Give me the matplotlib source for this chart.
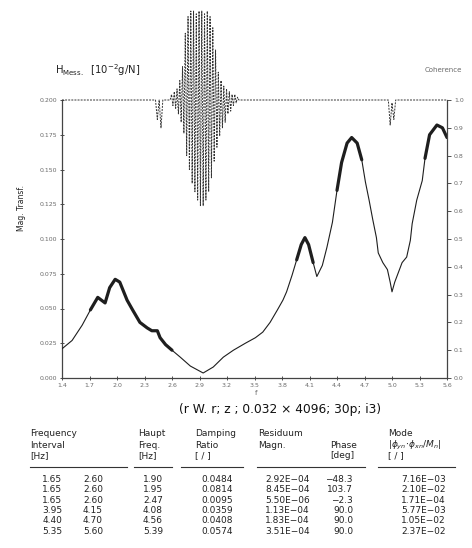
import numpy as np
import matplotlib.pyplot as plt

freq = [1.40, 1.51, 1.62, 1.71, 1.79, 1.87, 1.92, 1.98, 2.03, 2.11, 2.17,
        2.25, 2.33, 2.38, 2.44, 2.47, 2.53, 2.60, 2.69, 2.80, 2.94, 3.05,
        3.16, 3.27, 3.40, 3.51, 3.59, 3.67, 3.75, 3.81, 3.85, 3.91, 3.96,
        4.01, 4.05, 4.09, 4.14, 4.18, 4.24, 4.29, 4.35, 4.40, 4.45, 4.51,
        4.56, 4.62, 4.67, 4.71, 4.75, 4.79, 4.83, 4.85, 4.90, 4.95, 4.98,
        5.00, 5.03, 5.07, 5.11, 5.16, 5.20, 5.22, 5.27, 5.33, 5.36, 5.41,
        5.49, 5.55, 5.60]
mag = [0.021, 0.027, 0.038, 0.049, 0.058, 0.054, 0.065, 0.071, 0.069, 0.056,
       0.049, 0.040, 0.036, 0.034, 0.034, 0.029, 0.024, 0.020, 0.015, 0.0086,
       0.0036, 0.0079, 0.015, 0.020, 0.025, 0.029, 0.033, 0.040, 0.049, 0.056,
       0.062, 0.074, 0.085, 0.096, 0.101, 0.096, 0.083, 0.073, 0.081, 0.094,
       0.112, 0.135, 0.155, 0.169, 0.173, 0.169, 0.157, 0.141, 0.128, 0.114,
       0.101, 0.090, 0.083, 0.078, 0.069, 0.062, 0.069, 0.076, 0.083, 0.087,
       0.099, 0.111, 0.128, 0.142, 0.158, 0.175, 0.182, 0.180, 0.173]

coh_freq = [1.40, 2.42, 2.44, 2.46, 2.48, 2.50,
            2.580, 2.595, 2.610, 2.625, 2.640, 2.655, 2.670, 2.685, 2.700,
            2.715, 2.730, 2.745, 2.760, 2.775, 2.790, 2.805, 2.820, 2.835,
            2.850, 2.865, 2.880, 2.895, 2.910, 2.925, 2.940, 2.955, 2.970,
            2.985, 3.000, 3.015, 3.030, 3.045, 3.060, 3.075, 3.090, 3.105,
            3.120, 3.135, 3.150, 3.165, 3.180, 3.195, 3.210, 3.225, 3.240,
            3.255, 3.270, 3.285, 3.300, 3.315, 3.330,
            4.96, 4.98, 5.00, 5.02, 5.04, 5.60]
coh = [1.00, 1.00, 0.93, 1.00, 0.90, 1.00,
       1.00, 1.02, 0.98, 1.03, 0.97, 1.04, 0.95, 1.07, 0.92,
       1.12, 0.88, 1.24, 0.80, 1.30, 0.75, 1.32, 0.70, 1.32,
       0.67, 1.31, 0.64, 1.32, 0.62, 1.32, 0.62, 1.31, 0.64,
       1.32, 0.67, 1.30, 0.72, 1.26, 0.78, 1.18, 0.83, 1.10,
       0.87, 1.07, 0.90, 1.05, 0.92, 1.04, 0.95, 1.03, 0.96,
       1.02, 0.98, 1.02, 0.99, 1.01, 1.00,
       1.00, 0.91, 0.99, 0.93, 1.00, 1.00]

# --- Tabelle ---------------------------------------------------------------
f_lo = ["1.65", "1.65", "1.65", "3.95", "4.40", "5.35"]
f_hi = ["2.60", "2.60", "2.60", "4.15", "4.70", "5.60"]
haupt = ["1.90", "1.95", "2.47", "4.08", "4.56", "5.39"]
damping = ["0.0484", "0.0814", "0.0095", "0.0359", "0.0408", "0.0574"]
resid = ["2.92E\u221204", "8.45E\u221204", "5.50E\u221206", "1.13E\u221204",
         "1.83E\u221204", "3.51E\u221204"]
phase = ["\u221248.3", "103.7", "\u22122.3", "90.0", "90.0", "90.0"]
mode = ["7.16E\u221203", "2.10E\u221202", "1.71E\u221204", "5.77E\u221203",
        "1.05E\u221202", "2.37E\u221202"]

x_ticks = [1.4, 1.7, 2.0, 2.3, 2.6, 2.9, 3.2, 3.5, 3.8, 4.1, 4.4, 4.7, 5.0, 5.3, 5.6]
y_ticks = [0.0, 0.025, 0.05, 0.075, 0.1, 0.125, 0.15, 0.175, 0.2]
c_ticks = [0.0, 0.1, 0.2, 0.3, 0.4, 0.5, 0.6, 0.7, 0.8, 0.9, 1.0]

W, H = 472, 548
LINE = "#1e1e1e"
GREY = "#6a6a6a"


def px(x, y):
    """Pixel -> Figurkoordinaten."""
    return x / W, 1 - y / H


fig = plt.figure(figsize=(W / 100, H / 100), dpi=100)
ax = fig.add_axes([62 / W, 1 - 378 / H, (447 - 62) / W, (378 - 100) / H])
ax2 = ax.twinx()

f = np.array(freq)
m = np.array(mag)
ax.plot(f, m, color=LINE, lw=0.8, zorder=3)
# Fit-Intervalle fett
for lo, hi in sorted(set(zip(f_lo, f_hi))):
    sel = (f >= float(lo) - 1e-9) & (f <= float(hi) + 1e-9)
    ax.plot(f[sel], m[sel], color=LINE, lw=2.3, solid_capstyle="round", zorder=4)

ax.set_xlim(1.4, 5.6)
ax.set_ylim(0, 0.2)
ax.set_xticks(x_ticks)
ax.set_xticklabels([f"{t:.1f}" for t in x_ticks])
ax.set_yticks(y_ticks)
ax.set_yticklabels([f"{t:.3f}" for t in y_ticks])
ax.tick_params(direction="inout", length=3, width=0.6, labelsize=4.5,
               labelcolor=GREY, color="#333", pad=2)
for s in ["top", "right"]:
    ax.spines[s].set_visible(False)
for s in ["left", "bottom"]:
    ax.spines[s].set_linewidth(0.9)
    ax.spines[s].set_color("#444")

ax2.plot(coh_freq, coh, color="#333", lw=0.7, ls=(0, (2.0, 1.2)),
         clip_on=False, zorder=2)
ax2.set_ylim(0, 1.0)
ax2.set_yticks(c_ticks)
ax2.set_yticklabels([f"{t:.1f}" for t in c_ticks])
ax2.tick_params(direction="out", length=3, width=0.6, labelsize=4.5,
                labelcolor=GREY, color="#333", pad=2)
for s in ["top", "left", "bottom"]:
    ax2.spines[s].set_visible(False)
ax2.spines["right"].set_linewidth(0.9)
ax2.spines["right"].set_color("#444")

# Beschriftungen
fig.text(*px(55, 70), r"H$_{\rm Mess.}$  [10$^{-2}$g/N]", fontsize=7.2,
         va="center", ha="left", color="#222")
fig.text(*px(462, 70), "Coherence", fontsize=5, va="center", ha="right",
         color=GREY)
fig.text(*px(22, 208), "Mag. Transf.", fontsize=5.5, rotation=90,
         va="center", ha="center", color="#222")
fig.text(*px(256, 393), "f", fontsize=5, va="center", ha="center", color=GREY)
fig.text(*px(280, 409), "(r W. r; z ; 0.032 \u00d7 4096; 30p; i3)",
         fontsize=8.8, va="center", ha="center", color="#111")

# Tabelle
fs = 6.5
tc = "#222"
hdr = [
    (30, ["Frequency", "Interval", "[Hz]"]),
    (138, ["Haupt", "Freq.", "[Hz]"]),
    (195, ["Damping", "Ratio", "[ / ]"]),
    (258, ["Residuum", "Magn.", ""]),
    (330, ["", "Phase", "[deg]"]),
    (388, ["Mode", r"$|\phi_{yn}\!\cdot\!\phi_{xn}/M_n|$", "[ / ]"]),
]
hdr_y = [434, 445, 456]
for x0, lines in hdr:
    for yy, t in zip(hdr_y, lines):
        if t:
            fig.text(*px(x0, yy), t, fontsize=fs, va="center", ha="left", color=tc)

for x0, x1 in [(30, 127), (134, 172), (181, 243), (257, 365), (378, 455)]:
    fig.add_artist(plt.Line2D([x0 / W, x1 / W], [1 - 467 / H] * 2,
                              transform=fig.transFigure, color="#333", lw=0.8))

cols = [(62, f_lo), (103, f_hi), (163, haupt), (233, damping),
        (310, resid), (353, phase), (446, mode)]
row_y = [480, 490, 500.5, 510.5, 520.5, 531]
for xr, vals in cols:
    for yy, t in zip(row_y, vals):
        fig.text(*px(xr, yy), t, fontsize=fs, va="center", ha="right", color=tc)

fig.savefig("out.png", dpi=100)
